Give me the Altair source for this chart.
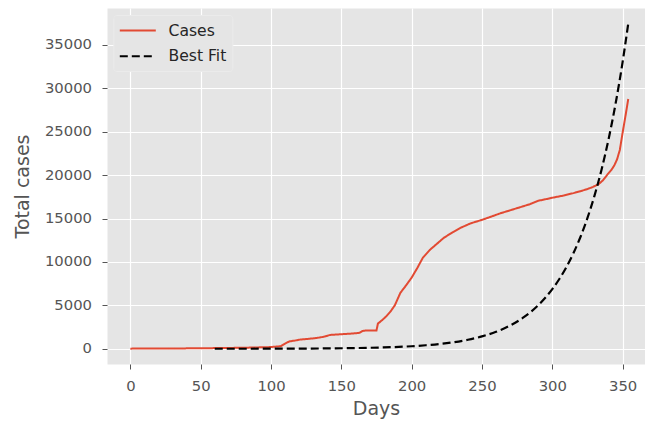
import altair as alt
import pandas as pd

# ---- data ----
series_names = ["Cases", "Best Fit"]

case_days = [0, 20, 40, 60, 80, 100, 107, 110, 113, 117, 121, 127, 133, 138, 142, 150,
             158, 163, 165, 167, 175, 176, 179, 182, 185, 188, 192, 196, 200, 204, 208,
             213, 218, 223, 229, 235, 242, 250, 257, 263, 270, 277, 284, 290, 296, 301,
             308, 315, 320, 325, 329, 333, 336, 339, 342, 344, 346, 348, 350, 352, 354]
case_values = [20, 30, 50, 80, 120, 200, 300, 600, 850, 950, 1070, 1150, 1260, 1400, 1600, 1680,
               1760, 1840, 2050, 2100, 2120, 2900, 3300, 3750, 4300, 5000, 6450, 7300, 8200, 9300, 10500,
               11400, 12100, 12800, 13400, 13950, 14450, 14850, 15250, 15600, 15950, 16300, 16650, 17050, 17250, 17430,
               17650, 17930, 18150, 18400, 18650, 18970, 19400, 20030, 20600, 21100, 21800, 22900, 24900, 26800, 28770]

fit_days = [60, 80, 100, 120, 140, 160, 180, 200, 210, 220, 230, 240, 250, 260, 270, 280,
            290, 295, 300, 305, 310, 315, 320, 325, 330, 335, 340, 345, 350, 354]
fit_values = [4, 7, 13, 24, 45, 85, 159, 297, 407, 558, 763, 1045, 1430, 1958, 2680, 3668,
              5022, 5876, 6875, 8040, 9410, 11010, 12880, 15070, 17640, 20630, 24140, 28245, 33050, 37470]

x_ticks = [0, 50, 100, 150, 200, 250, 300, 350]
y_ticks = [0, 5000, 10000, 15000, 20000, 25000, 30000, 35000]

cases_df = pd.DataFrame({"day": case_days, "value": case_values, "series": series_names[0]})
fit_df = pd.DataFrame({"day": fit_days, "value": fit_values, "series": series_names[1]})

FONT = "DejaVu Sans"

x_enc = alt.X("day:Q",
              scale=alt.Scale(domain=[-16.6, 365.9], nice=False, zero=False),
              axis=alt.Axis(values=x_ticks, title="Days", labelPadding=9, titlePadding=7))
y_enc = alt.Y("value:Q",
              scale=alt.Scale(domain=[-1750, 39250], nice=False, zero=False),
              axis=alt.Axis(values=y_ticks, title="Total cases", format="d",
                            labelPadding=10.5, titlePadding=12))
color_enc = alt.Color("series:N",
                      scale=alt.Scale(domain=series_names, range=["#E24A33", "#000000"]),
                      legend=alt.Legend(title=None))
dash_enc = alt.StrokeDash("series:N",
                          scale=alt.Scale(domain=series_names, range=[[1, 0], [8, 4]]),
                          legend=alt.Legend(title=None))

cases_line = alt.Chart(cases_df).mark_line(strokeWidth=2).encode(
    x=x_enc, y=y_enc, color=color_enc, strokeDash=dash_enc)
fit_line = alt.Chart(fit_df).mark_line(strokeWidth=2.2, interpolate="monotone").encode(
    x=x_enc, y=y_enc, color=color_enc, strokeDash=dash_enc)

chart = alt.layer(cases_line, fit_line).properties(
    width=538, height=356,
    autosize=alt.AutoSizeParams(type="none"),
    padding={"left": 99, "top": 0, "right": 0, "bottom": 56},
    background="white",
).configure_view(
    fill="#E5E5E5", stroke="transparent"
).configure_axis(
    grid=True, gridColor="white", gridWidth=1.2, domain=False,
    tickColor="#555555", tickSize=5, tickWidth=1,
    labelColor="#555555", labelFontSize=14.8, labelFont=FONT,
    titleColor="#555555", titleFontSize=19, titleFont=FONT, titleFontWeight="normal",
).configure_legend(
    orient="none", legendX=6.3, legendY=7,
    symbolType="M-1,0H3", symbolSize=324, symbolStrokeWidth=2,
    labelFont=FONT, labelFontSize=15.6, labelColor="#262626", labelOffset=29.7,
    rowPadding=6.7, padding=5.5, fillColor="#E5E5E5", strokeColor="#EBEBEB", cornerRadius=3,
)

chart.save("out.html", embed_options={"renderer": "svg", "actions": False})
